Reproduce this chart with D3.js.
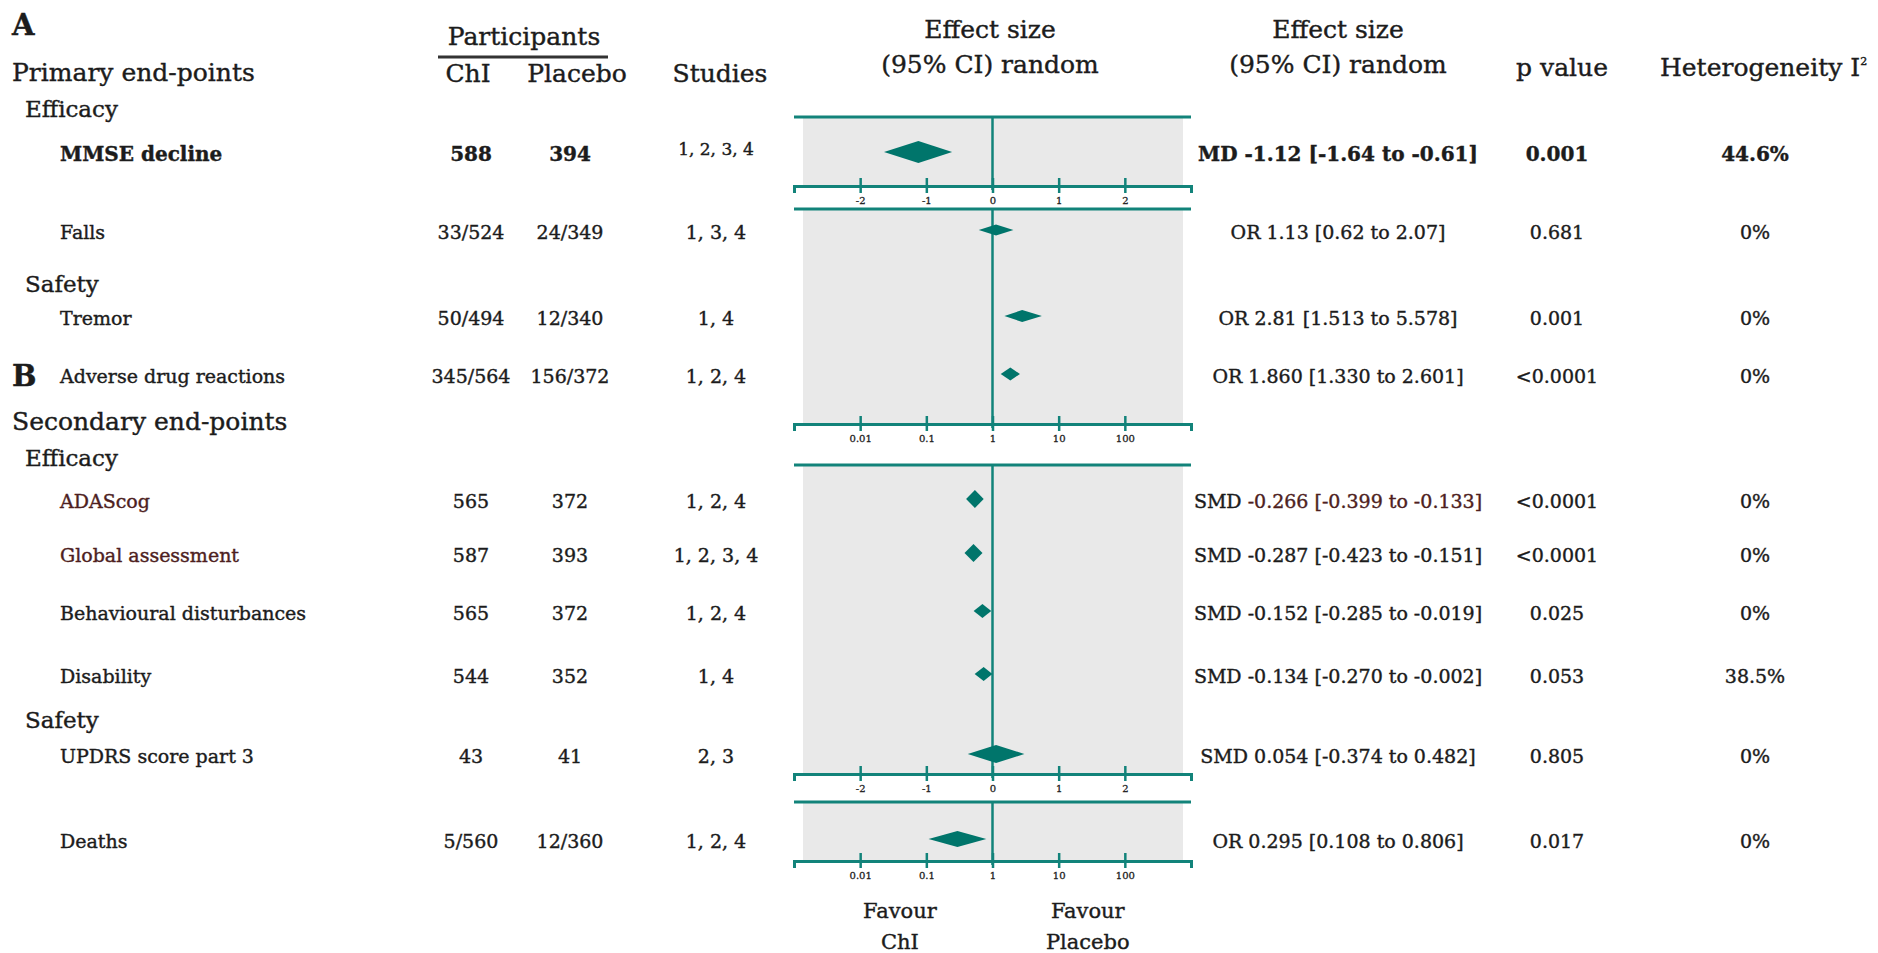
<!DOCTYPE html>
<html>
<head>
<meta charset="utf-8">
<script src="https://cdn.jsdelivr.net/npm/d3@7"></script>
<style>
  body { margin: 0; background: #fff; }
  svg { display: block; }
  text { font-family: "DejaVu Serif", serif; fill: #1c1c1c; stroke: #1c1c1c; stroke-width: 0.4px; }
</style>
</head>
<body>
<div id="chart"></div>
<script>
// ---- data ----
const outcomes = ["MMSE decline", "Falls", "Tremor", "Adverse drug reactions",
  "ADAScog", "Global assessment", "Behavioural disturbances", "Disability",
  "UPDRS score part 3", "Deaths"];
const chiN = ["588", "33/524", "50/494", "345/564", "565", "587", "565", "544", "43", "5/560"];
const placeboN = ["394", "24/349", "12/340", "156/372", "372", "393", "372", "352", "41", "12/360"];
const studies = ["1, 2, 3, 4", "1, 3, 4", "1, 4", "1, 2, 4", "1, 2, 4", "1, 2, 3, 4",
  "1, 2, 4", "1, 4", "2, 3", "1, 2, 4"];
const measure = ["MD", "OR", "OR", "OR", "SMD", "SMD", "SMD", "SMD", "SMD", "OR"];
const estimate = ["-1.12", "1.13", "2.81", "1.860", "-0.266", "-0.287", "-0.152", "-0.134", "0.054", "0.295"];
const lower = ["-1.64", "0.62", "1.513", "1.330", "-0.399", "-0.423", "-0.285", "-0.270", "-0.374", "0.108"];
const upper = ["-0.61", "2.07", "5.578", "2.601", "-0.133", "-0.151", "-0.019", "-0.002", "0.482", "0.806"];
const pValues = ["0.001", "0.681", "0.001", "<0.0001", "<0.0001", "<0.0001", "0.025", "0.053", "0.805", "0.017"];
const heterogeneity = ["44.6%", "0%", "0%", "0%", "0%", "0%", "0%", "38.5%", "0%", "0%"];
// which plot panel each outcome sits in
const panelOf = [0, 1, 1, 1, 2, 2, 2, 2, 2, 3];
const linearTicks = [-2, -1, 0, 1, 2];
const logTicks = [0.01, 0.1, 1, 10, 100];
const sectionTitles = ["Primary end-points", "Efficacy", "Safety", "Secondary end-points", "Efficacy", "Safety"];

// ---- layout ----
const W = 1878, H = 953;
const teal = "#12837a", diamondFill = "#00756b", grey = "#e9e9e9", brown = "#4e1f1f";

const rowY = d3.scaleOrdinal()
  .domain(outcomes)
  .range([152, 230, 316, 374, 499, 553, 611, 674, 754, 839]);
const sectionY = [81, 117, 292, 430, 466, 728];
const sectionLevel = [0, 1, 1, 0, 1, 1];
// drawn half-height of each diamond (px)
const diamondHalf = [11, 5.5, 6, 6.5, 9, 9, 7, 7, 9, 8];

const panels = [
  {type: "lin", top: 117, axis: 186},
  {type: "log", top: 209, axis: 424},
  {type: "lin", top: 465, axis: 774},
  {type: "log", top: 802, axis: 861}
];

const xLin = d3.scaleLinear().domain([-3, 3]).range([794, 1191]);
const xLog = d3.scaleLog().domain([1e-3, 1e3]).range([794, 1191]);
const xFor = t => t === "lin" ? xLin : xLog;

const col = {label: 60, chi: 471, placebo: 570, studies: 716, effect: 1338, p: 1557, het: 1755};

const svg = d3.select("#chart").append("svg")
    .attr("width", W)
    .attr("height", H);

// ---- header ----
const head = svg.append("g").style("font-size", "25px");
head.append("text").attr("x", 12).attr("y", 35)
  .style("font-size", "29px").style("font-weight", "bold").text("A");
head.append("text").attr("x", 524).attr("y", 45).attr("text-anchor", "middle").text("Participants");
head.append("line").attr("x1", 438).attr("x2", 608).attr("y1", 57).attr("y2", 57)
  .attr("stroke", "#333").attr("stroke-width", 3);
head.append("text").attr("x", 468).attr("y", 82).attr("text-anchor", "middle").text("ChI");
head.append("text").attr("x", 577).attr("y", 82).attr("text-anchor", "middle").text("Placebo");
head.append("text").attr("x", 720).attr("y", 82).attr("text-anchor", "middle").text("Studies");
[990, 1338].forEach(cx => {
  head.append("text").attr("x", cx).attr("y", 38).attr("text-anchor", "middle").text("Effect size");
  head.append("text").attr("x", cx).attr("y", 73).attr("text-anchor", "middle").text("(95% CI) random");
});
head.append("text").attr("x", 1562).attr("y", 76).attr("text-anchor", "middle").text("p value");
const het = head.append("text").attr("x", 1660).attr("y", 76).text("Heterogeneity I");
het.append("tspan").attr("dy", -11).style("font-size", "11px").text("2");

// section titles on the left
svg.append("g").selectAll("text")
  .data(sectionTitles)
  .join("text")
    .attr("x", (d, i) => sectionLevel[i] === 0 ? 12 : 25)
    .attr("y", (d, i) => sectionY[i])
    .style("font-size", (d, i) => sectionLevel[i] === 0 ? "25px" : "23px")
    .text(d => d);

svg.append("text").attr("x", 12).attr("y", rowY("Adverse drug reactions")).attr("dy", "0.42em")
  .style("font-size", "29px").style("font-weight", "bold").text("B");

// ---- plot panels ----
panels.forEach((p, k) => {
  const x = xFor(p.type);
  const [r0, r1] = x.range();
  const g = svg.append("g");

  g.append("rect")
    .attr("x", r0 + 9).attr("width", r1 - r0 - 17)
    .attr("y", p.top).attr("height", p.axis - p.top)
    .attr("fill", grey);

  g.append("line")
    .attr("x1", r0).attr("x2", r1).attr("y1", p.top).attr("y2", p.top)
    .attr("stroke", teal).attr("stroke-width", 3);

  const zero = p.type === "lin" ? x(0) : x(1);
  g.append("line")
    .attr("x1", zero).attr("x2", zero).attr("y1", p.top).attr("y2", p.axis + 4)
    .attr("stroke", teal).attr("stroke-width", 2.5);

  const idx = d3.range(outcomes.length).filter(i => panelOf[i] === k);
  g.selectAll("path.diamond")
    .data(idx)
    .join("path")
      .attr("class", "diamond")
      .attr("fill", diamondFill)
      .attr("d", i => {
        const y = rowY(outcomes[i]), h = diamondHalf[i];
        return `M${x(+lower[i])},${y}L${x(+estimate[i])},${y - h}L${x(+upper[i])},${y}L${x(+estimate[i])},${y + h}Z`;
      });

  const axis = d3.axisBottom(x)
    .tickValues(p.type === "lin" ? linearTicks : logTicks)
    .tickFormat(p.type === "lin" ? (d => String(d)) : d3.format("~g"))
    .tickSizeOuter(0)
    .tickSize(7)
    .tickPadding(4);

  const ag = g.append("g")
    .attr("transform", `translate(0,${p.axis})`)
    .call(axis);
  ag.select(".domain").attr("stroke", teal).attr("stroke-width", 3);
  ag.selectAll(".tick line").attr("stroke", teal).attr("stroke-width", 2.5).attr("y1", -8);
  ag.selectAll(".tick text")
    .style("font-family", "'DejaVu Serif', serif")
    .style("font-size", "10px")
    .style("stroke-width", "0.3px")
    .attr("fill", "#222");
});

// ---- table rows ----
const rows = svg.append("g").selectAll("g")
  .data(outcomes)
  .join("g")
    .attr("transform", d => `translate(0,${rowY(d)})`)
    .style("font-size", (d, i) => i === 0 ? "20px" : "19px")
    .style("font-weight", (d, i) => i === 0 ? "bold" : "normal");

const dy = "0.45em";
rows.append("text").attr("x", col.label).attr("dy", dy)
  .style("fill", (d, i) => (i === 4 || i === 5) ? brown : null)
  .style("stroke", (d, i) => (i === 4 || i === 5) ? brown : null)
  .text(d => d);
rows.append("text").attr("x", col.chi).attr("dy", dy).attr("text-anchor", "middle")
  .text((d, i) => chiN[i]);
rows.append("text").attr("x", col.placebo).attr("dy", dy).attr("text-anchor", "middle")
  .text((d, i) => placeboN[i]);
rows.append("text").attr("x", col.studies).attr("dy", (d, i) => i === 0 ? "0.15em" : dy)
  .attr("text-anchor", "middle")
  .style("font-weight", "normal")
  .style("font-size", (d, i) => i === 0 ? "17px" : null)
  .text((d, i) => studies[i]);

const eff = rows.append("text").attr("x", col.effect).attr("dy", dy).attr("text-anchor", "middle");
eff.append("tspan").text((d, i) => measure[i] + " ");
eff.append("tspan")
  .style("fill", (d, i) => i === 4 ? brown : null)
  .style("stroke", (d, i) => i === 4 ? brown : null)
  .text((d, i) => `${estimate[i]} [${lower[i]} to ${upper[i]}]`);

rows.append("text").attr("x", col.p).attr("dy", dy).attr("text-anchor", "middle")
  .text((d, i) => pValues[i]);
rows.append("text").attr("x", col.het).attr("dy", dy).attr("text-anchor", "middle")
  .text((d, i) => heterogeneity[i]);

// ---- favour labels ----
const fav = svg.append("g").style("font-size", "21px").attr("text-anchor", "middle");
fav.append("text").attr("x", xLin(-1.4)).attr("y", 918).text("Favour");
fav.append("text").attr("x", xLin(-1.4)).attr("y", 949).text("ChI");
fav.append("text").attr("x", xLin(1.44)).attr("y", 918).text("Favour");
fav.append("text").attr("x", xLin(1.44)).attr("y", 949).text("Placebo");
</script>
</body>
</html>
